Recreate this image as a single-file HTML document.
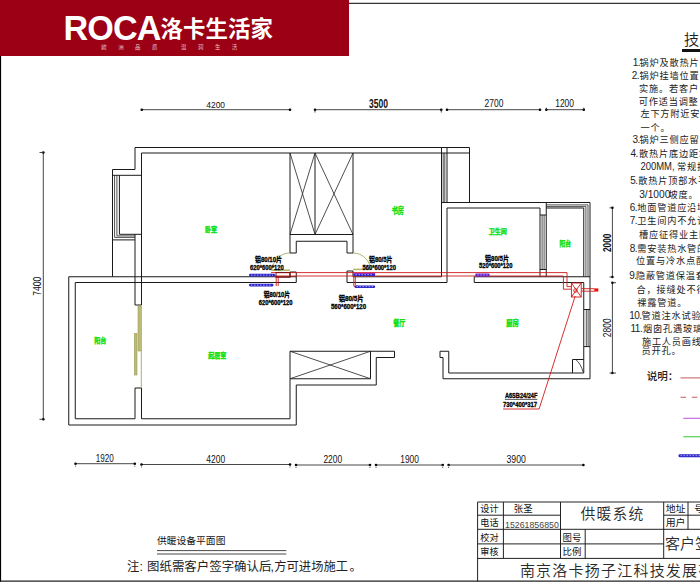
<!DOCTYPE html>
<html lang="zh-CN"><head><meta charset="utf-8"><title>供暖设备平面图</title>
<style>
html,body{margin:0;padding:0;background:#fff;}
body{width:700px;height:585px;overflow:hidden;position:relative;font-family:"Liberation Sans","Noto Sans CJK SC",sans-serif;}
svg{position:absolute;left:0;top:0;display:block}
.w{fill:none;stroke:#1a1a1a;stroke-width:1}
.t{fill:none;stroke:#222;stroke-width:.8}
.d{fill:none;stroke:#333;stroke-width:.9}
.dt{fill:#000}
.dd{stroke:#333;stroke-width:.8;stroke-dasharray:1 1}
.u{stroke:#111;stroke-width:.7}
.ol{fill:none;stroke:#a9a95c;stroke-width:.9}
.ol2{fill:none;stroke:#b4b468;stroke-width:1.5}
.olf{fill:#bcbc78;stroke:#9c9c58;stroke-width:.6}
.r{fill:none;stroke:#d01818;stroke-width:.9}
.rd{fill:none;stroke:#7a0c0c;stroke-width:1}
.rf{fill:#f01010;stroke:none}
.bl{fill:#2a22c8;stroke:none}
.bd{stroke:#b9b6ff;stroke-width:.9;stroke-dasharray:1.6 1.4}
.pu{stroke:#a020c0;stroke-width:1}
text{font-family:"Liberation Sans","Noto Sans CJK SC",sans-serif;fill:#1c1c1c}
.dm{font-size:9.9px;fill:#111}
.rm{font-size:8.4px;font-weight:bold;fill:#0fe00f;stroke:#0fe00f;stroke-width:.4px}
.lb{font-size:7.3px;font-weight:bold;fill:#000;stroke:#000;stroke-width:.32px}
.nt{font-size:9.2px;fill:#222;letter-spacing:.8px}
.nn{font-size:10px;letter-spacing:-.5px}
.nw{font-size:10.8px;letter-spacing:0}
.hd{font-size:15.2px;fill:#222;font-weight:350}
.sm{font-size:10.6px;fill:#222;font-weight:500}
.tb{font-size:9.5px;fill:#111}
.ph{font-size:9.8px;fill:#444}
.tt{font-size:15px;fill:#2a2a2a;font-weight:350}
.co{font-size:15px;fill:#2a2a2a;font-weight:350;letter-spacing:1.22px}
.pl{font-size:9.6px;fill:#111}
.no{font-size:12.3px;fill:#222}
#banner{position:absolute;left:0;top:0;width:349px;height:56px;background:#9b0015;overflow:hidden}
#roca{position:absolute;left:63.5px;top:7.75px;font-size:34.2px;line-height:40px;font-weight:bold;color:#fff;letter-spacing:-.9px;transform:scaleX(1);transform-origin:0 0;white-space:nowrap}
#cn{position:absolute;left:160.4px;top:12.2px;font-size:22.4px;line-height:36px;font-weight:bold;color:#fff;white-space:nowrap;letter-spacing:.15px}
.sub{position:absolute;top:42.5px;font-size:5.4px;line-height:9px;color:#e9c9cc;white-space:nowrap;letter-spacing:11.5px}
</style></head><body>
<svg width="700" height="585" viewBox="0 0 700 585">
<!-- page border -->
<line x1="349" y1="3.4" x2="700" y2="3.4" stroke="#333" stroke-width="1.1"/>
<line x1="0.5" y1="56" x2="0.5" y2="582" stroke="#000" stroke-width="1.2"/>
<line x1="0" y1="581.15" x2="700" y2="581.15" stroke="#222" stroke-width="1.3"/>
<!-- legend -->
<line x1="680.5" y1="377.9" x2="700" y2="377.9" stroke="#c86a6a" stroke-width="1.1"/>
<line x1="680.5" y1="397.2" x2="700" y2="397.2" stroke="#cc5a5a" stroke-width="1.1" stroke-dasharray="5.5 5.8"/>
<line x1="683.3" y1="418.3" x2="700" y2="418.3" stroke="#c25fe0" stroke-width="1.1"/>
<line x1="683.3" y1="436.7" x2="700" y2="436.7" stroke="#6ad86a" stroke-width="1.4"/>
<rect x="682" y="49" width="18" height="3" fill="#111"/>
<line class="w" x1="157" y1="550.6" x2="286.3" y2="550.6" style="stroke-width:.8"/>
<line class="w" x1="157" y1="554" x2="286.3" y2="554" style="stroke-width:.8"/>
<!-- title block -->
<g class="w" style="stroke:#222">
<polyline points="477.6,581.5 477.6,502 700,502"/>
<line x1="477.6" y1="515.2" x2="560.5" y2="515.2"/>
<line x1="663.7" y1="515.2" x2="700" y2="515.2"/>
<line x1="477.6" y1="529.3" x2="700" y2="529.3"/>
<line x1="477.6" y1="543.9" x2="663.7" y2="543.9"/>
<line x1="477.6" y1="558.4" x2="700" y2="558.4"/>
<line x1="503.4" y1="502" x2="503.4" y2="558.4"/>
<line x1="560.5" y1="502" x2="560.5" y2="558.4"/>
<line x1="585.2" y1="529.3" x2="585.2" y2="558.4"/>
<line x1="663.7" y1="502" x2="663.7" y2="558.4"/>
<line x1="688" y1="502" x2="688" y2="529.3"/>
</g>
<polyline class="w" points="112.5,276.75 112.5,169.5 135,169.5 135,147.5 469.5,147.5 469.5,202.5"/>
<line class="w" x1="141.5" y1="153" x2="469.5" y2="153"/>
<line class="w" x1="141.5" y1="153" x2="141.5" y2="305"/>
<line class="w" x1="112.5" y1="175.3" x2="141.5" y2="175.3"/>
<polyline class="t" points="114.6,175.3 114.6,237.4 135,237.4"/>
<line class="w" x1="112.5" y1="239.9" x2="135" y2="239.9"/>
<polyline class="t" points="116.9,175.3 116.9,235.9 135,235.9"/>
<polyline class="w" points="119.4,175.3 119.4,234.3 141.5,234.3"/>
<polyline class="w" points="135,234.25 135,305 141.5,305"/>
<line class="w" x1="68.75" y1="276.75" x2="296.25" y2="276.75"/>
<line class="w" x1="75.25" y1="282.5" x2="296.25" y2="282.5"/>
<polyline class="w" points="290,276.75 290,272 296.25,272 296.25,282.5"/>
<polyline class="w" points="68.75,276.75 68.75,425 296.25,425 296.25,385 376.25,385 376.25,357.5 394.5,357.5 394.5,351.25 290,351.25 290,418.75 141.5,418.75 141.5,388 135,388 135,418.75 75.25,418.75 75.25,282.5"/>
<line class="w" x1="290" y1="378.75" x2="370.5" y2="378.75"/>
<line class="w" x1="370.5" y1="351.25" x2="370.5" y2="378.75"/>
<line class="t" x1="290" y1="351.25" x2="370.5" y2="378.75"/>
<line class="t" x1="290" y1="378.75" x2="370.5" y2="351.25"/>
<line class="w" x1="290" y1="153" x2="290" y2="253"/>
<line class="w" x1="315" y1="153" x2="315" y2="234.5"/>
<line class="w" x1="353" y1="153" x2="353" y2="253"/>
<line class="w" x1="290" y1="234.5" x2="353" y2="234.5"/>
<line class="t" x1="290" y1="153" x2="315" y2="234.5"/>
<line class="t" x1="315" y1="153" x2="290" y2="234.5"/>
<line class="t" x1="315" y1="153" x2="353" y2="234.5"/>
<line class="t" x1="353" y1="153" x2="315" y2="234.5"/>
<polyline class="w" points="290,253 296.25,253 296.25,241.25 347,241.25 347,253 353,253"/>
<line class="w" x1="441.5" y1="147.5" x2="441.5" y2="276.75"/>
<line class="w" x1="447" y1="147.5" x2="447" y2="202.5"/>
<line class="w" x1="447" y1="208" x2="447" y2="282.5"/>
<line class="t" x1="443.2" y1="153" x2="443.2" y2="202.5"/>
<line class="t" x1="444.8" y1="153" x2="444.8" y2="202.5"/>
<polyline class="w" points="353,276.75 441.5,276.75"/>
<polyline class="w" points="353,271 347,271 347,282.5 447,282.5"/>
<line class="w" x1="353" y1="271" x2="353" y2="276.75"/>
<line class="w" x1="441.5" y1="202.5" x2="590" y2="202.5"/>
<line class="w" x1="447" y1="208" x2="540" y2="208"/>
<line class="w" x1="546.25" y1="208" x2="583.75" y2="208"/>
<line class="t" x1="546.25" y1="204.9" x2="588" y2="204.9"/>
<line class="t" x1="546.25" y1="206.6" x2="585.9" y2="206.6"/>
<line class="w" x1="590" y1="202.5" x2="590" y2="378.75"/>
<line class="w" x1="583.75" y1="208" x2="583.75" y2="276.75"/>
<line class="t" x1="585.9" y1="206.6" x2="585.9" y2="276.75"/>
<line class="t" x1="588" y1="204.9" x2="588" y2="276.75"/>
<polyline class="w" points="540,208 540,276.75"/>
<polyline class="w" points="546.25,202.5 546.25,276.75"/>
<line class="w" x1="540" y1="215" x2="546.25" y2="215"/>
<line class="w" x1="540" y1="269.5" x2="546.25" y2="269.5"/>
<line class="t" x1="542.1" y1="215" x2="542.1" y2="269.5"/>
<line class="t" x1="544.1" y1="215" x2="544.1" y2="269.5"/>
<polyline class="w" points="590,276.75 474.25,276.75 474.25,282.5 583.75,282.5 583.75,373 448.75,373 448.75,351.25 440,351.25 440,357.5 443,357.5 443,378.75 590,378.75"/>
<line class="w" x1="583.75" y1="309.5" x2="590" y2="309.5"/>
<line class="w" x1="583.75" y1="346.6" x2="590" y2="346.6"/>
<line class="t" x1="586.3" y1="309.5" x2="586.3" y2="346.6"/>
<line class="t" x1="588.1" y1="309.5" x2="588.1" y2="346.6"/>
<polyline class="w" points="572.5,373 572.5,359.5 583.75,359.5"/>
<path class="t" d="M575.6,359.5 Q580.5,363 583.3,372.5"/>
<path class="ol" d="M290,253 A18,18 0 0 0 272,270.5"/>
<line class="ol2" x1="271.5" y1="270.2" x2="290" y2="270.2"/>
<path class="ol" d="M353,253 A17.5,17.5 0 0 1 370.5,270"/>
<line class="ol2" x1="353" y1="269.4" x2="370.5" y2="269.4"/>
<rect class="olf" x="138" y="306" width="3.4" height="45"/>
<rect class="olf" x="134.3" y="333.5" width="2.7" height="41.5"/>
<line class="ol" x1="141.3" y1="351" x2="141.3" y2="388"/>
<polyline class="r" points="271,272.6 567,272.6 567,286.6 571.4,286.6"/>
<polyline class="r" points="271,276 563.4,276 563.4,289.2 571.4,289.2"/>
<line class="r" x1="276.2" y1="276" x2="276.2" y2="286"/>
<line class="r" x1="278.2" y1="276" x2="278.2" y2="286"/>
<rect class="rd" x="276" y="272.6" width="14" height="4.6"/>
<polyline class="r" points="353.8,276 353.8,286.2 358,286.2"/>
<line class="r" x1="355.3" y1="276" x2="355.3" y2="285"/>
<rect class="r" x="571.4" y="283" width="9.8" height="14"/>
<line class="r" x1="571.4" y1="283" x2="581.2" y2="297"/>
<line class="r" x1="581.2" y1="283" x2="571.4" y2="297"/>
<circle class="r" cx="575.5" cy="290.5" r="1.8"/>
<line class="r" x1="581.2" y1="288.7" x2="594.5" y2="288.7"/>
<line class="r" x1="581.2" y1="291.2" x2="594.5" y2="291.2"/>
<rect class="rf" x="594.3" y="288.4" width="4.0" height="3.2"/>
<polyline class="r" points="575.2,296 539.1,409 503.1,409"/>
<rect class="bl" x="249" y="273.8" width="26" height="2.6" rx="1.3"/>
<line class="bd" x1="251" y1="275.1" x2="273" y2="275.1"/>
<rect class="bl" x="249" y="283.8" width="24.5" height="2.6" rx="1.3"/>
<line class="bd" x1="251" y1="285.1" x2="271.5" y2="285.1"/>
<rect class="bl" x="353.4" y="273.4" width="21.8" height="2.6" rx="1.3"/>
<line class="bd" x1="355.4" y1="274.7" x2="373.2" y2="274.7"/>
<rect class="bl" x="354.5" y="285.5" width="20.7" height="2.4" rx="1.3"/>
<line class="bd" x1="356.5" y1="286.7" x2="373.2" y2="286.7"/>
<rect class="bl" style="fill:#6a22c8" x="475.3" y="273.4" width="14.4" height="3" rx="1.3"/>
<line class="bd" x1="477.3" y1="274.9" x2="487.7" y2="274.9"/>
<rect class="bl" x="678.5" y="454.2" width="23.5" height="3" rx="1.3"/>
<line class="bd" x1="680.5" y1="455.7" x2="700" y2="455.7"/>
<line class="pu" x1="353.4" y1="273.4" x2="375.2" y2="273.4"/>
<line class="d" x1="141.8" y1="109.7" x2="290" y2="109.7"/>
<circle class="dt" cx="141.8" cy="109.7" r="1.3"/>
<circle class="dt" cx="290" cy="109.7" r="1.3"/>
<line class="d" x1="315" y1="109.7" x2="441.3" y2="109.7"/>
<circle class="dt" cx="315" cy="109.7" r="1.3"/>
<circle class="dt" cx="441.3" cy="109.7" r="1.3"/>
<line class="d" x1="447" y1="109.7" x2="540" y2="109.7"/>
<circle class="dt" cx="447" cy="109.7" r="1.3"/>
<circle class="dt" cx="540" cy="109.7" r="1.3"/>
<line class="d" x1="546.3" y1="109.7" x2="583.8" y2="109.7"/>
<circle class="dt" cx="546.3" cy="109.7" r="1.3"/>
<circle class="dt" cx="583.8" cy="109.7" r="1.3"/>
<line class="d" x1="315" y1="109.7" x2="315" y2="112.5"/>
<line class="d" x1="441.3" y1="109.7" x2="441.3" y2="112.5"/>
<line class="d" x1="546.3" y1="107.7" x2="546.3" y2="109.7"/>
<line class="d" x1="583.8" y1="107.7" x2="583.8" y2="109.7"/>
<line class="d" x1="75.5" y1="463.7" x2="134.8" y2="463.7"/>
<circle class="dt" cx="75.5" cy="463.7" r="1.3"/>
<circle class="dt" cx="134.8" cy="463.7" r="1.3"/>
<line class="dd" x1="75.5" y1="463.7" x2="75.5" y2="467.2"/>
<line class="dd" x1="134.8" y1="463.7" x2="134.8" y2="467.2"/>
<line class="d" x1="141.5" y1="464.5" x2="290" y2="464.5"/>
<circle class="dt" cx="141.5" cy="464.5" r="1.3"/>
<circle class="dt" cx="290" cy="464.5" r="1.3"/>
<line class="dd" x1="141.5" y1="464.5" x2="141.5" y2="468.0"/>
<line class="dd" x1="290" y1="464.5" x2="290" y2="468.0"/>
<line class="d" x1="296" y1="465" x2="370" y2="465"/>
<circle class="dt" cx="296" cy="465" r="1.3"/>
<circle class="dt" cx="370" cy="465" r="1.3"/>
<line class="dd" x1="296" y1="465" x2="296" y2="468.5"/>
<line class="dd" x1="370" y1="465" x2="370" y2="468.5"/>
<line class="d" x1="376" y1="465" x2="442.7" y2="465"/>
<circle class="dt" cx="376" cy="465" r="1.3"/>
<circle class="dt" cx="442.7" cy="465" r="1.3"/>
<line class="dd" x1="376" y1="465" x2="376" y2="468.5"/>
<line class="dd" x1="442.7" y1="465" x2="442.7" y2="468.5"/>
<line class="d" x1="448.6" y1="465" x2="583.4" y2="465"/>
<circle class="dt" cx="448.6" cy="465" r="1.3"/>
<circle class="dt" cx="583.4" cy="465" r="1.3"/>
<line class="dd" x1="448.6" y1="465" x2="448.6" y2="468.5"/>
<line class="d" x1="43.3" y1="152.5" x2="43.3" y2="419.3"/>
<circle class="dt" cx="43.3" cy="152.5" r="1.3"/>
<circle class="dt" cx="43.3" cy="419.3" r="1.3"/>
<line class="d" x1="39.5" y1="152.5" x2="43.3" y2="152.5"/>
<line class="d" x1="39.5" y1="419.3" x2="43.3" y2="419.3"/>
<line class="d" x1="612.4" y1="207.8" x2="612.4" y2="277"/>
<circle class="dt" cx="612.4" cy="207.8" r="1.3"/>
<circle class="dt" cx="612.4" cy="277" r="1.3"/>
<line class="d" x1="612.4" y1="282.7" x2="612.4" y2="373"/>
<circle class="dt" cx="612.4" cy="282.7" r="1.3"/>
<circle class="dt" cx="612.4" cy="373" r="1.3"/>
<line class="d" x1="609.5" y1="207.8" x2="612.4" y2="207.8"/>
<line class="d" x1="609.5" y1="277" x2="612.4" y2="277"/>
<line class="d" x1="612.4" y1="282.7" x2="616" y2="282.7"/>
<line class="d" x1="609.5" y1="373" x2="616" y2="373"/>
<text class="dm" style="font-size:9.9px" x="206.3" y="108" textLength="18.7" lengthAdjust="spacingAndGlyphs">4200</text>
<text class="dm" style="font-size:12.4px;font-weight:bold" x="368.9" y="108.3" textLength="19.0" lengthAdjust="spacingAndGlyphs">3500</text>
<text class="dm" style="font-size:10.9px" x="484.6" y="107.1" textLength="18.8" lengthAdjust="spacingAndGlyphs">2700</text>
<text class="dm" style="font-size:10.4px" x="555.2" y="107.1" textLength="18.8" lengthAdjust="spacingAndGlyphs">1200</text>
<text class="dm" style="font-size:10.6px" x="95.7" y="461.7" textLength="18.0" lengthAdjust="spacingAndGlyphs">1920</text>
<text class="dm" style="font-size:10.3px" x="206.3" y="462.6" textLength="18.8" lengthAdjust="spacingAndGlyphs">4200</text>
<text class="dm" style="font-size:10.9px" x="323.4" y="463" textLength="18.8" lengthAdjust="spacingAndGlyphs">2200</text>
<text class="dm" style="font-size:10.4px" x="400.3" y="463" textLength="18.6" lengthAdjust="spacingAndGlyphs">1900</text>
<text class="dm" style="font-size:10.7px" x="506.5" y="463" textLength="19.4" lengthAdjust="spacingAndGlyphs">3900</text>
<text class="dm" style="font-size:10.1px" transform="translate(41.2,295.8) rotate(-90)" textLength="19.1" lengthAdjust="spacingAndGlyphs">7400</text>
<text class="dm" style="font-size:10.9px;font-weight:bold" transform="translate(610.9,252) rotate(-90)" textLength="18.3" lengthAdjust="spacingAndGlyphs">2000</text>
<text class="dm" style="font-size:11.4px" transform="translate(610.9,337.2) rotate(-90)" textLength="18.8" lengthAdjust="spacingAndGlyphs">2800</text>
<text class="rm" style="font-size:7.4px" x="204.9" y="231.6" textLength="12.1" lengthAdjust="spacingAndGlyphs">卧室</text>
<text class="rm" style="font-size:8.6px" x="391.7" y="213.9" textLength="12.3" lengthAdjust="spacingAndGlyphs">书房</text>
<text class="rm" style="font-size:7.4px" x="488.8" y="234.1" textLength="18.1" lengthAdjust="spacingAndGlyphs">卫生间</text>
<text class="rm" style="font-size:7.4px" x="559.5" y="246.4" textLength="11.6" lengthAdjust="spacingAndGlyphs">阳台</text>
<text class="rm" style="font-size:7.4px" x="94.2" y="342.8" textLength="12.1" lengthAdjust="spacingAndGlyphs">阳台</text>
<text class="rm" style="font-size:7.4px" x="208.3" y="357.8" textLength="18.0" lengthAdjust="spacingAndGlyphs">起居室</text>
<text class="rm" style="font-size:8px" x="393.2" y="326.1" textLength="12.1" lengthAdjust="spacingAndGlyphs">餐厅</text>
<text class="rm" style="font-size:8px" x="506.2" y="326.1" textLength="12.6" lengthAdjust="spacingAndGlyphs">厨房</text>
<text class="lb" x="255" y="262.3" textLength="27" lengthAdjust="spacingAndGlyphs">铝80/10片</text>
<text class="lb" x="250" y="269.5" textLength="33.7" lengthAdjust="spacingAndGlyphs">620*600*120</text>
<text class="lb" x="263.7" y="297.3" textLength="26.3" lengthAdjust="spacingAndGlyphs">铝80/10片</text>
<text class="lb" x="258.7" y="304.5" textLength="33.8" lengthAdjust="spacingAndGlyphs">620*600*120</text>
<text class="lb" x="338.7" y="301" textLength="25.0" lengthAdjust="spacingAndGlyphs">铝80/5片</text>
<text class="lb" x="331" y="308.7" textLength="35" lengthAdjust="spacingAndGlyphs">560*600*120</text>
<text class="lb" x="369" y="262.3" textLength="23.5" lengthAdjust="spacingAndGlyphs">铝80/5片</text>
<text class="lb" x="362.5" y="269.8" textLength="33.5" lengthAdjust="spacingAndGlyphs">560*600*120</text>
<text class="lb" x="485" y="260.7" textLength="24" lengthAdjust="spacingAndGlyphs">铝80/5片</text>
<text class="lb" x="479" y="268" textLength="33.5" lengthAdjust="spacingAndGlyphs">520*600*120</text>
<text class="lb" x="504.9" y="398.4" textLength="32.5" lengthAdjust="spacingAndGlyphs">A6SB24/24F</text>
<text class="lb" x="503.1" y="406.5" textLength="33.9" lengthAdjust="spacingAndGlyphs">730*400*317</text>
<line class="u" x1="504.9" y1="399.4" x2="537.4" y2="399.4"/>
<text class="nt" y="66.3"><tspan class="nn" x="632.7">1.</tspan><tspan x="639.5">锅炉及散热片</tspan></text>
<text class="nt" y="79.2"><tspan class="nn" x="631.7">2.</tspan><tspan x="639.5">锅炉挂墙位置</tspan></text>
<text class="nt" x="639.0" y="92.2">实施。若客户，</text>
<text class="nt" x="638.7" y="104.8">可作适当调整</text>
<text class="nt" x="640.4" y="116.9">左下方附近安</text>
<text class="nt" x="640.6" y="131.1">一个。</text>
<text class="nt" y="143.1"><tspan class="nn" x="632.5">3.</tspan><tspan x="639.5">锅炉三侧应留</tspan></text>
<text class="nt" y="156.9"><tspan class="nn" x="630.5">4.</tspan><tspan x="639.0">散热片底边距地</tspan></text>
<text class="nt" y="170.0"><tspan class="nw" x="640.4" textLength="34.2" lengthAdjust="spacingAndGlyphs">200MM,</tspan><tspan x="677.0">常规按</tspan></text>
<text class="nt" y="184.4"><tspan class="nn" x="630.2">5.</tspan><tspan x="638.2">散热片顶部水平</tspan></text>
<text class="nt" y="198.2"><tspan class="nw" x="639.2" textLength="31.2" lengthAdjust="spacingAndGlyphs">3/1000</tspan><tspan x="668.5">坡度。</tspan></text>
<text class="nt" y="210.8"><tspan class="nn" x="629.8">6.</tspan><tspan x="637.2">地面管道应沿墙</tspan></text>
<text class="nt" y="224.4"><tspan class="nn" x="629.8">7.</tspan><tspan x="637.2">卫生间内不允许</tspan></text>
<text class="nt" x="639.1" y="238.4">槽应征得业主同</text>
<text class="nt" y="251.6"><tspan class="nn" x="629.8">8.</tspan><tspan x="637.2">需安装热水管的</tspan></text>
<text class="nt" x="636.0" y="264.4">位置与冷水点配</text>
<text class="nt" y="279.4"><tspan class="nn" x="629.2">9.</tspan><tspan x="635.9">隐蔽管道保温套</tspan></text>
<text class="nt" x="636.6" y="292.6">合，接缝处不得</text>
<text class="nt" x="637.3" y="305.8">裸露管道。</text>
<text class="nt" y="319.1"><tspan class="nn" x="629.2">10.</tspan><tspan x="641.6">管道注水试验</tspan></text>
<text class="nt" y="331.9"><tspan class="nn" x="630.5">11.</tspan><tspan x="643.1">烟囱孔遇玻璃</tspan></text>
<text class="nt" x="641.9" y="345.0">施工人员画线</text>
<text class="nt" x="641.6" y="353.8">员开孔。</text>
<text class="hd" x="684" y="45.3">技术要求</text>
<text class="sm" x="646.7" y="379.8">说明：</text>
<text class="tb" x="480.3" y="512.2" textLength="18.2" lengthAdjust="spacingAndGlyphs">设计</text>
<text class="tb" x="513.7" y="512.2" textLength="18.9" lengthAdjust="spacingAndGlyphs">张圣</text>
<text class="tb" x="480.3" y="525.8" textLength="18.2" lengthAdjust="spacingAndGlyphs">电话</text>
<text class="ph" x="505" y="528.1" textLength="53.8" lengthAdjust="spacingAndGlyphs">15261856850</text>
<text class="tb" x="480.3" y="540.5" textLength="18.2" lengthAdjust="spacingAndGlyphs">校对</text>
<text class="tb" x="480.3" y="555.1" textLength="18.2" lengthAdjust="spacingAndGlyphs">审核</text>
<text class="tb" x="562.6" y="540.5" textLength="18.8" lengthAdjust="spacingAndGlyphs">图号</text>
<text class="tb" x="562.6" y="555.1" textLength="18.8" lengthAdjust="spacingAndGlyphs">比例</text>
<text class="tb" x="665.7" y="512.2" textLength="19.7" lengthAdjust="spacingAndGlyphs">地址</text>
<text class="tb" x="665.7" y="525.8" textLength="19.7" lengthAdjust="spacingAndGlyphs">用户</text>
<text class="tb" x="694.3" y="512.2">号码</text>
<text class="tt" x="580.5" y="518.6" style="font-size:14.8px;letter-spacing:1.2px">供暖系统</text>
<text class="tt" x="664.9" y="548.6">客户签字</text>
<text class="co" x="519.9" y="575.8">南京洛卡扬子江科技发展有限公司</text>
<text class="pl" x="157" y="543.7" textLength="68.4" lengthAdjust="spacingAndGlyphs">供暖设备平面图</text>
<text class="no" y="570.9"><tspan x="127.1">注:</tspan><tspan x="147" textLength="124.4" lengthAdjust="spacingAndGlyphs">图纸需客户签字确认后</tspan><tspan x="270.6">,</tspan><tspan x="274.3" textLength="73.7" lengthAdjust="spacingAndGlyphs">方可进场施工</tspan><tspan x="349.5">。</tspan></text>
</svg>
<div id="banner">
<div id="roca">ROCA</div>
<div id="cn">洛卡生活家</div>
<div class="sub" style="left:101.3px">欧洲品质</div>
<div class="sub" style="left:181.1px">温润生活</div>
</div>
</body></html>
